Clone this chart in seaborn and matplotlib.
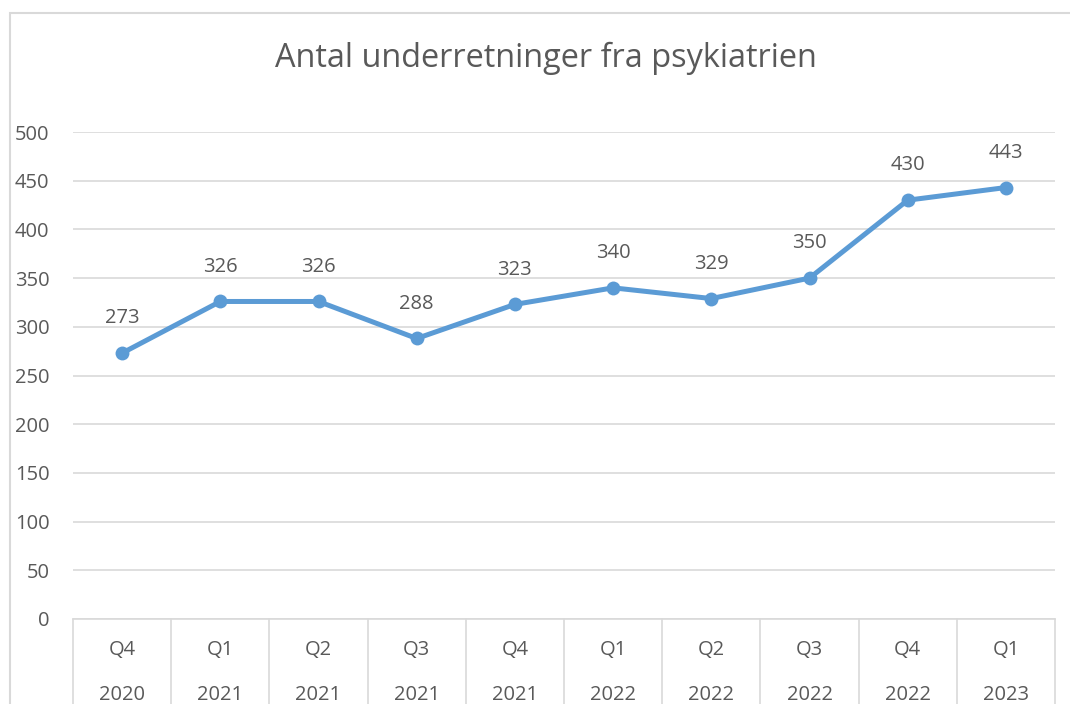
import numpy as np
import pandas as pd
import matplotlib
matplotlib.use("Agg")
import matplotlib.pyplot as plt
import matplotlib.transforms as mtransforms
from matplotlib.patches import Rectangle
import seaborn as sns

# data
kvartaler = ["Q4", "Q1", "Q2", "Q3", "Q4", "Q1", "Q2", "Q3", "Q4", "Q1"]
aar = ["2020", "2021", "2021", "2021", "2021", "2022", "2022", "2022", "2022", "2023"]
antal = [273, 326, 326, 288, 323, 340, 329, 350, 430, 443]

df = pd.DataFrame({"pos": np.arange(len(antal)), "antal": antal})

sns.set_theme(style="white")
plt.rcParams["font.family"] = ["Open Sans", "DejaVu Sans"]

tekst = "#595959"
gitter = "#D9D9D9"
blaa = "#5B9BD5"

W, H = 1070, 704
fig = plt.figure(figsize=(W / 100, H / 100), dpi=100)
ax = fig.add_axes([73 / W, (H - 619) / H, 982 / W, (619 - 132) / H])

# ramme om hele diagrammet
fig.patches.append(Rectangle((10 / W, -0.2), 1.2, (H - 13) / H + 0.2,
                             transform=fig.transFigure, fill=False,
                             edgecolor=gitter, linewidth=1.5))

sns.lineplot(data=df, x="pos", y="antal", ax=ax, color=blaa, linewidth=3.6,
             marker="o", markersize=10, markeredgewidth=0, zorder=3)

ax.set_xlim(-0.5, len(antal) - 0.5)
ax.set_ylim(0, 500)
ax.set_yticks(np.arange(0, 501, 50))
ax.yaxis.grid(True, color=gitter, linewidth=1.2)
ax.tick_params(axis="y", colors=tekst, labelsize=14.5, length=0, pad=17)
ax.set_xticks([])
ax.set_xlabel("")
ax.set_ylabel("")
for side in ["top", "right", "left"]:
    ax.spines[side].set_visible(False)
ax.spines["bottom"].set_color(gitter)
ax.spines["bottom"].set_linewidth(1.2)

# datalabels
for i, v in enumerate(antal):
    ax.annotate(str(v), (i, v), xytext=(0, 25), textcoords="offset points",
                ha="center", va="center", fontsize=14.5, color=tekst,
                annotation_clip=False)

# kategoriakse i to niveauer
trans = mtransforms.blended_transform_factory(ax.transData, ax.transAxes)
px = 1 / (619 - 132)
for b in np.arange(-0.5, len(antal), 1.0):
    ax.plot([b, b], [0, -120 * px], transform=trans, color=gitter,
            linewidth=1.2, clip_on=False)
for i, (q, y) in enumerate(zip(kvartaler, aar)):
    ax.text(i, -31 * px, q, transform=trans, ha="center", va="center",
            fontsize=14.5, color=tekst)
    ax.text(i, -76 * px, y, transform=trans, ha="center", va="center",
            fontsize=14.5, color=tekst)

fig.text(546 / W, (H - 58) / H, "Antal underretninger fra psykiatrien",
         ha="center", va="center", fontsize=23.4, color=tekst)

fig.savefig("out.png", dpi=100)
